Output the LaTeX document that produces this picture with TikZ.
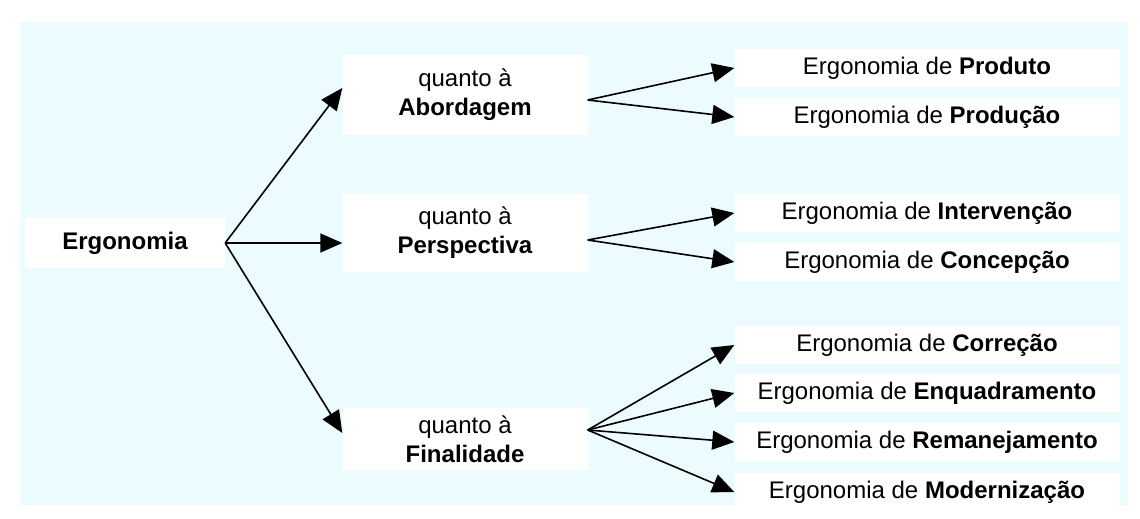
\documentclass[tikz,border=0pt]{standalone}
\usepackage{fontspec}
\setmainfont{Liberation Sans}
\usepackage{xcolor}
\usepackage{tikz}
\usetikzlibrary{arrows.meta}
\definecolor{bgcyan}{RGB}{236,251,253}

\begin{document}
\begin{tikzpicture}[x=1pt, y=-1pt,
    box/.style={fill=white, inner sep=0pt, align=center, font=\fontsize{24}{29}\selectfont},
    midbox/.style={box, minimum width=245pt},
    leafbox/.style={box, minimum width=385pt, minimum height=38pt},
    arr/.style={-{Triangle[length=22pt, width=19pt]}, line width=1.6pt}]
    \useasboundingbox (0,0) rectangle (1140,519);
    % light background
    \fill[bgcyan] (20,22) rectangle (1128,505);

    % Root
    \node[box, minimum width=200pt, minimum height=50pt] (ergo) at (125,243) {\textbf{Ergonomia}};

    % quanto a ...
    \node[midbox, minimum height=80pt] (abord) at (465,95) {quanto à\\\textbf{Abordagem}};
    \node[midbox, minimum height=78pt] (persp) at (465,233) {quanto à\\\textbf{Perspectiva}};
    \node[midbox, minimum height=62pt] (final) at (465,439) {quanto à\\\textbf{Finalidade}};

    % Leaves
    \node[leafbox] (produto) at (927,68) {Ergonomia de \textbf{Produto}};
    \node[leafbox] (producao) at (927,117) {Ergonomia de \textbf{Produção}};
    \node[leafbox] (interv) at (927,213) {Ergonomia de \textbf{Intervenção}};
    \node[leafbox] (concep) at (927,262) {Ergonomia de \textbf{Concepção}};
    \node[leafbox] (correc) at (927,345) {Ergonomia de \textbf{Correção}};
    \node[leafbox] (enquad) at (927,393) {Ergonomia de \textbf{Enquadramento}};
    \node[leafbox] (reman) at (927,442) {Ergonomia de \textbf{Remanejamento}};
    \node[leafbox] (modern) at (927,492) {Ergonomia de \textbf{Modernização}};

    % Arrows from root
    \draw[arr] (ergo.east) -- ([yshift=7pt]abord.west);
    \draw[arr] (ergo.east) -- (ergo.east -| persp.west);
    \draw[arr] (ergo.east) -- ([yshift=6pt]final.west);

    % Arrows to leaves
    \draw[arr] ([yshift=-5pt]abord.east) -- (produto.west);
    \draw[arr] ([yshift=-5pt]abord.east) -- (producao.west);
    \draw[arr] ([yshift=-7pt]persp.east) -- (interv.west);
    \draw[arr] ([yshift=-7pt]persp.east) -- (concep.west);
    \draw[arr] ([yshift=9pt]final.east) -- (correc.west);
    \draw[arr] ([yshift=9pt]final.east) -- (enquad.west);
    \draw[arr] ([yshift=9pt]final.east) -- (reman.west);
    \draw[arr] ([yshift=9pt]final.east) -- (modern.west);
\end{tikzpicture}
\end{document}
